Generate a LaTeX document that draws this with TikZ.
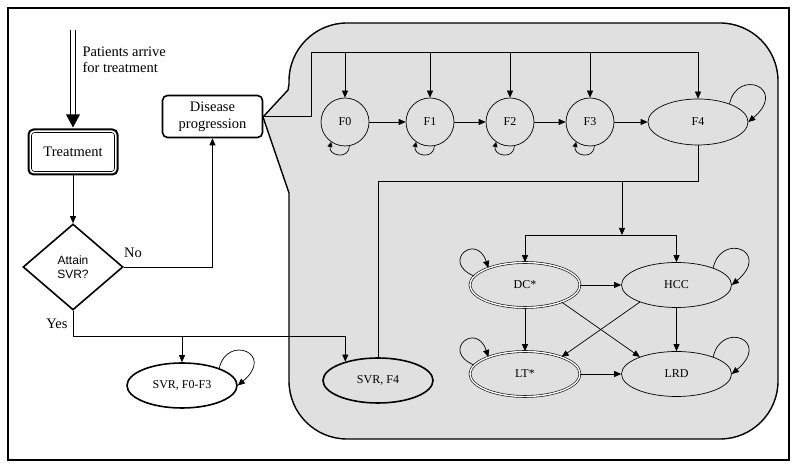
\documentclass[tikz,border=0pt]{standalone}
\usepackage{fontspec}
\setmainfont{Liberation Serif}
\newfontfamily\arialfont{Liberation Sans}
\usetikzlibrary{shapes.geometric,arrows.meta,calc}
\definecolor{panelgray}{RGB}{224,224,224}
\begin{document}
\begin{tikzpicture}[x=1pt,y=1pt,
  arr/.style={-{Triangle[length=7pt,width=6pt]}},
  sarr/.style={-{Triangle[length=5pt,width=5pt]}},
  con/.style={line width=0.7pt},
  fnode/.style={circle,draw,line width=0.7pt,minimum size=48pt,inner sep=0pt,font=\fontsize{12}{14}\selectfont},
  ell/.style={ellipse,draw,line width=0.7pt,minimum width=110pt,minimum height=45pt,inner sep=0pt,font=\fontsize{12}{14}\selectfont},
  thickell/.style={ell,line width=1.6pt},
  dbl/.style={ell,double=white,double distance=1.4pt,line width=0.6pt},
  boxtext/.style={font=\fontsize{14.5}{17}\selectfont,align=center}
]
\useasboundingbox (0,0) rectangle (800,470);

% grey callout panel
\filldraw[fill=panelgray,line width=1.4pt]
  (263,353) -- (288,380) -- (289,386) -- (289,389)
  arc[start angle=180,end angle=90,radius=58] -- (720,447)
  arc[start angle=90,end angle=0,radius=58] -- (778,89)
  arc[start angle=0,end angle=-90,radius=58] -- (347,31)
  arc[start angle=270,end angle=180,radius=58] -- (289,277) -- cycle;

% outer frame
\draw[line width=1.8pt] (8,10) rectangle (789,462);

% left flow chart
\node[draw,line width=2pt,rounded corners=5pt,minimum width=89pt,minimum height=45pt,boxtext] (treat) at (73,318) {Treatment};
\draw[line width=0.6pt,rounded corners=3pt] ($(treat.north west)+(4,-4)$) rectangle ($(treat.south east)+(-4,4)$);

\node[draw,line width=1.6pt,rounded corners=5pt,minimum width=100pt,minimum height=42pt,boxtext] (dis) at (212.5,353.5) {Disease\\progression};

\node[diamond,draw,line width=1.6pt,minimum width=100pt,minimum height=86pt,inner sep=0pt,align=center,font=\arialfont\fontsize{12}{14}\selectfont] (svr) at (73,203) {Attain\\SVR?};

\node[anchor=west,align=left,font=\fontsize{14.5}{16}\selectfont] (pat) at (79,410) {Patients arrive\\for treatment};

\node[font=\fontsize{14.5}{16}\selectfont] (no) at (133,217) {No};
\node[font=\fontsize{14.5}{16}\selectfont] (yes) at (57,146) {Yes};

\node[thickell] (svr03) at (182,84.5) {SVR, F0-F3};
\node[thickell] (svr4) at (378,89.5) {SVR, F4};

% fibrosis states
\node[fnode] (F0) at (345,348) {F0};
\node[fnode] (F1) at (430,348) {F1};
\node[fnode] (F2) at (510,348) {F2};
\node[fnode] (F3) at (590,348) {F3};
\node[ell,minimum width=100pt,minimum height=46pt] (F4) at (698,348) {F4};

% complications
\node[dbl] (DC) at (525,185) {DC*};
\node[ell] (HCC) at (676.5,185) {HCC};
\node[dbl] (LT) at (525,96) {LT*};
\node[ell] (LRD) at (676.5,96) {LRD};

% patients arrive double arrow
\coordinate (pa) at (73,440);
\draw[double,double distance=3.6pt,line width=0.9pt] (pa) -- ($(treat.north)+(0,12)$);
\fill ($(treat.north)+(0,1)$) -- ++(-7,13) -- ++(14,0) -- cycle;

% flow connectors
\draw[con,arr] (treat.south) -- (svr.north);
\draw[con,arr] (svr.east) -| (dis.south);
\coordinate (yj) at (73,134);
\draw[con,arr] (svr.south) -- (yj) -| (svr4.150);
\draw[con,arr] (svr03.north |- yj) -- (svr03.north);

% disease progression into states
\coordinate (tl) at (311,418);
\draw[con] (dis.east) -| (tl) -- (F4.north |- tl);
\foreach \n in {F0,F1,F2,F3,F4} \draw[con,arr] (\n.north |- tl) -- (\n.north);
\draw[con,arr] (F0) -- (F1);
\draw[con,arr] (F1) -- (F2);
\draw[con,arr] (F2) -- (F3);
\draw[con,arr] (F3) -- (F4);

% small self loops
\foreach \n in {F0,F1,F2,F3}
  \draw[con,sarr] (\n.-80) .. controls +(0,-14) and +(-3,-14) .. (\n.-125);
\draw[con,arr] (F4.30) .. controls +(8,36) and +(40,34) .. (F4.east);

% F4 down
\coordinate (mid) at (698,289);
\draw[con] (F4.south) -- (mid) -| (svr4.north);
\coordinate (sp) at (622,289);
\coordinate (jn) at (622,235);
\draw[con,arr] (sp) -- (jn);
\draw[con] (DC.north |- jn) -- (HCC.north |- jn);
\draw[con,arr] (DC.north |- jn) -- (DC.north);
\draw[con,arr] (HCC.north |- jn) -- (HCC.north);

% complication transitions
\draw[con,arr] (DC) -- (HCC);
\draw[con,arr] (DC) -- (LT);
\draw[con,arr] (HCC) -- (LRD);
\draw[con,arr] (LT) -- (LRD);
\draw[con,arr] (DC.-25) -- (LRD.155);
\draw[con,arr] (HCC.205) -- (LT.25);

% loops
\draw[con,arr] (HCC.25) .. controls +(8,36) and +(40,34) .. (HCC.east);
\draw[con,arr] (LRD.25) .. controls +(8,36) and +(40,34) .. (LRD.east);
\draw[con,arr] (svr03.25) .. controls +(8,34) and +(38,32) .. (svr03.east);
\draw[con,arr] (DC.170) .. controls +(-34,14) and +(-12,36) .. (DC.155);
\draw[con,arr] (LT.170) .. controls +(-34,14) and +(-12,36) .. (LT.155);
\end{tikzpicture}
\end{document}
